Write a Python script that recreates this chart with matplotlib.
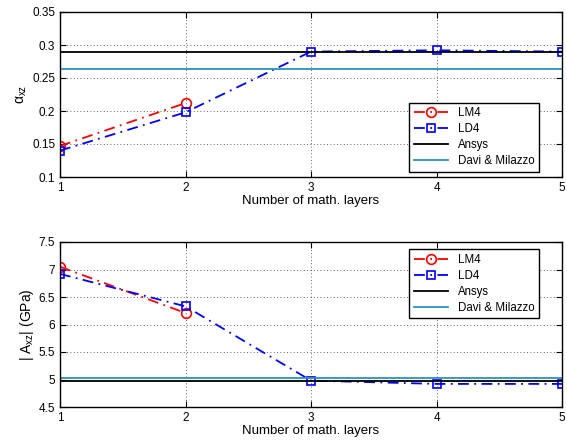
import numpy as np
import matplotlib
matplotlib.use('Agg')
import matplotlib.pyplot as plt

plt.rcParams['font.family'] = ['Liberation Sans', 'DejaVu Sans']
plt.rcParams['mathtext.fontset'] = 'custom'
plt.rcParams['mathtext.rm'] = 'Liberation Sans'
plt.rcParams['mathtext.it'] = 'Liberation Sans'

# data
layers = [1, 2, 3, 4, 5]
lm4_layers = [1, 2]
alpha_lm4 = [0.147, 0.212]
alpha_ld4 = [0.140, 0.198, 0.290, 0.292, 0.290]
alpha_ansys = 0.289
alpha_davi = 0.263

a_lm4 = [7.05, 6.21]
a_ld4 = [6.92, 6.33, 4.98, 4.92, 4.92]
a_ansys = 4.98
a_davi = 5.03

davi_col = (0.17, 0.57, 0.75)
dashdot = (0, (6, 3, 1, 3))

fig = plt.figure(figsize=(5.67, 4.43), dpi=100)
ax1 = fig.add_axes([60/567, 1-177/443, 502/567, 165/443])
ax2 = fig.add_axes([60/567, 1-407/443, 502/567, 165/443])


def draw(ax, lm4, ld4, ansys, davi, ylim, yticks, ytlabels, ylabel, loc, anchor):
    ax.plot(lm4_layers, lm4, color='red', linestyle=dashdot, marker='o', markersize=7,
            markerfacecolor='none', markeredgewidth=1.2, linewidth=1.3, label='LM4')
    ax.plot(layers, ld4, color='blue', linestyle=dashdot, marker='s', markersize=6,
            markerfacecolor='none', markeredgewidth=1.2, linewidth=1.3, label='LD4')
    ax.axhline(ansys, color='black', linewidth=1.3, label='Ansys')
    ax.axhline(davi, color=davi_col, linewidth=1.3, label='Davi & Milazzo')
    ax.set_xlim(1, 5)
    ax.set_ylim(*ylim)
    ax.set_xticks(layers)
    ax.set_yticks(yticks)
    ax.set_yticklabels(ytlabels)
    ax.grid(True, linestyle=(0, (1, 3)), color='#333333', linewidth=0.6)
    ax.tick_params(direction='in', top=True, right=True, labelsize=8.5, length=4)
    for s in ax.spines.values():
        s.set_linewidth(1.0)
    ax.set_xlabel('Number of math. layers', fontsize=9.5, labelpad=1)
    ax.set_ylabel(ylabel, fontsize=10, labelpad=2)
    leg = ax.legend(loc=loc, bbox_to_anchor=anchor, fontsize=8.3, fancybox=False,
                    framealpha=1, edgecolor='black', handlelength=3.0,
                    borderaxespad=0, labelspacing=0.35)
    leg.get_frame().set_linewidth(1.0)


draw(ax1, alpha_lm4, alpha_ld4, alpha_ansys, alpha_davi, (0.1, 0.35),
     [0.1, 0.15, 0.2, 0.25, 0.3, 0.35],
     ['0.1', '0.15', '0.2', '0.25', '0.3', '0.35'],
     r'$\alpha_{xz}$', 'lower right', (0.954, 0.030))
draw(ax2, a_lm4, a_ld4, a_ansys, a_davi, (4.5, 7.5),
     [4.5, 5, 5.5, 6, 6.5, 7, 7.5],
     ['4.5', '5', '5.5', '6', '6.5', '7', '7.5'],
     r'| A$_{xz}$| (GPa)', 'upper right', (0.954, 0.958))

fig.savefig('out.png', dpi=100)
